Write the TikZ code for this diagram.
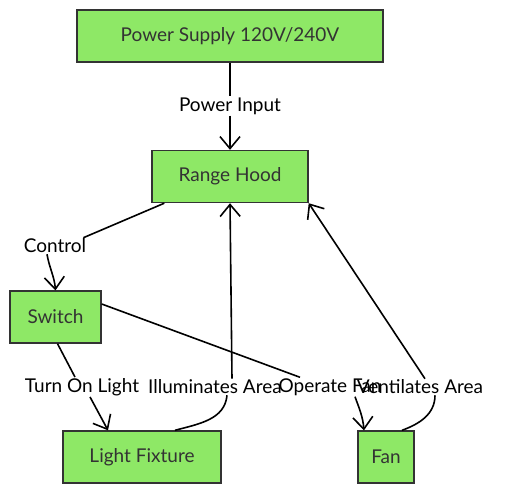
\documentclass[tikz,border=0pt]{standalone}
\usepackage{fontspec}
\setmainfont{Lato}
\usetikzlibrary{arrows.meta}
\definecolor{boxgreen}{HTML}{8EE866}
\definecolor{boxline}{HTML}{333333}
\begin{document}
\begin{tikzpicture}[x=1pt,y=-1pt,
  box/.style={draw=boxline,fill=boxgreen,line width=1.4pt,text=boxline,
    minimum height=52pt,inner sep=0pt,font=\fontsize{19}{21}\selectfont},
  lbl/.style={inner sep=1pt,font=\fontsize{19}{21}\selectfont},
  link/.style={line width=1.6pt},
  arr/.style={link,-{Straight Barb[length=12pt,width=20pt]}}]
  \useasboundingbox (0,0) rectangle (512,493);
  \node[box,minimum width=306pt] (supply) at (230,36) {Power Supply 120V/240V};
  \node[box,minimum width=156pt] (hood) at (230,176.5) {Range Hood};
  \node[box,minimum width=91pt] (switch) at (55.5,317) {Switch};
  \node[box,minimum width=158pt] (fixture) at (142,457) {Light Fixture};
  \node[box,minimum width=56pt] (fan) at (386,457) {Fan};
  \node[lbl] (power) at (230,106) {Power Input};
  \node[lbl] (control) at (55,246) {Control};
  \node[lbl] (turnon) at (82,387) {Turn On Light};
  \node[lbl] (illum) at (215,387) {Illuminates Area};
  \node[lbl] (operate) at (330,387) {Operate Fan};
  \node[lbl] (vent) at (420,387) {Ventilates Area};
  \draw[link] (supply) -- (power);
  \draw[arr] (power) -- (hood);
  \draw[link] ([xshift=13pt]hood.south west) -- ([xshift=-4pt]control.north east);
  \draw[arr] ([xshift=-8pt]control.south) to[out=-80,in=95] (switch.north);
  \draw[link] ([xshift=2pt]switch.south) -- ([xshift=-7pt]turnon.north);
  \draw[arr] ([xshift=8pt]turnon.south) -- ([xshift=-34pt]fixture.north);
  \draw[link] ([yshift=13pt]switch.east) -- ([xshift=-30pt]operate.north);
  \draw[arr] ([xshift=25pt]operate.south) to[out=-70,in=95] ([xshift=-22pt]fan.north);
  \draw[link] ([xshift=33pt]fixture.north) to[out=15,in=-95] ([xshift=12pt]illum.south);
  \draw[arr] ([xshift=17pt]illum.north) -- (hood.south);
  \draw[link] ([xshift=16pt]fan.north) to[out=20,in=-90] ([xshift=15pt]vent.south);
  \draw[arr] ([xshift=5pt]vent.north) -- (hood.south east);
\end{tikzpicture}
\end{document}
